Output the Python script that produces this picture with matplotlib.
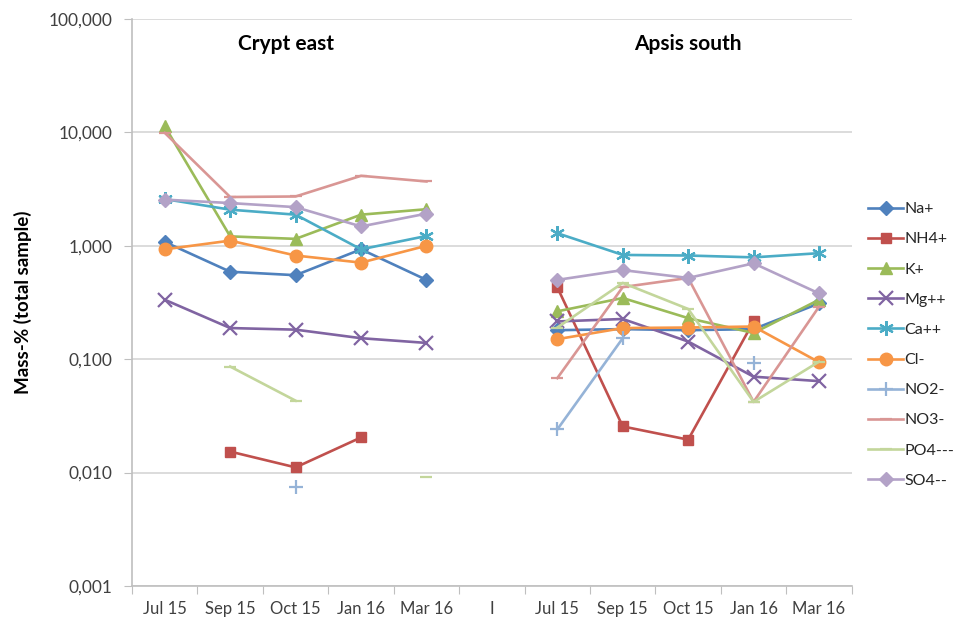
import numpy as np
import matplotlib
matplotlib.use("Agg")
import matplotlib.pyplot as plt
from matplotlib.ticker import FuncFormatter, FixedLocator, NullFormatter

nan = np.nan

# sampling dates, crypt east block | separator | apsis south block
dates = ["Jul 15", "Sep 15", "Oct 15", "Jan 16", "Mar 16", "I",
         "Jul 15", "Sep 15", "Oct 15", "Jan 16", "Mar 16"]

# mass-% of the total sample for each ion
na = [1.08, 0.59, 0.55, 0.93, 0.50, nan, 0.18, 0.184, 0.18, 0.184, 0.31]
nh4 = [nan, 0.0153, 0.0111, 0.0204, nan, nan, 0.43, 0.0255, 0.0195, 0.215, nan]
k = [11.3, 1.21, 1.15, 1.88, 2.10, nan, 0.264, 0.346, 0.23, 0.17, 0.334]
mg = [0.334, 0.188, 0.182, 0.153, 0.139, nan, 0.215, 0.226, 0.143, 0.070, 0.064]
ca = [2.58, 2.08, 1.88, 0.93, 1.22, nan, 1.29, 0.83, 0.82, 0.79, 0.86]
cl = [0.93, 1.11, 0.82, 0.71, 1.00, nan, 0.150, 0.188, 0.19, 0.194, 0.094]
no2 = [nan, nan, 0.0074, nan, nan, nan, 0.024, 0.153, nan, 0.092, nan]
no3 = [9.9, 2.69, 2.72, 4.14, 3.69, nan, 0.068, 0.432, 0.52, 0.042, 0.29]
po4 = [nan, 0.086, 0.043, nan, 0.0091, nan, 0.19, 0.47, 0.277, 0.042, 0.095]
so4 = [2.55, 2.38, 2.19, 1.48, 1.92, nan, 0.50, 0.61, 0.52, 0.70, 0.38]

ions = ["Na+", "NH4+", "K+", "Mg++", "Ca++", "Cl-", "NO2-", "NO3-", "PO4---", "SO4--"]
series = [na, nh4, k, mg, ca, cl, no2, no3, po4, so4]

colors = ["#4F81BD", "#C0504D", "#9BBB59", "#8064A2", "#4BACC6",
          "#F79646", "#95B3D7", "#D99694", "#C3D69B", "#B3A2C7"]
markers = ["D", "s", "^", "x", (6, 2, 0), "o", "+", "_", "_", "D"]
msizes = [7, 7.5, 8.5, 9.5, 10.5, 9, 9.5, 8, 8, 7]

plt.rcParams["font.family"] = ["Lato", "DejaVu Sans"]

fig = plt.figure(figsize=(9.57, 6.22), dpi=100)
ax = fig.add_axes([0.138, 0.058, 0.752, 0.9115])

x = np.arange(len(dates))
for name, vals, c, m, ms in zip(ions, series, colors, markers, msizes):
    mew = 1.6 if m in ("x", "+", "_") or isinstance(m, tuple) else 1.0
    ax.plot(x, vals, color=c, lw=1.9, marker=m, ms=ms, mew=mew,
            mec=c, mfc=c, label=name, zorder=3)

ax.set_yscale("log")
ax.set_ylim(0.001, 100)
ax.set_xlim(-0.5, 10.5)
ax.yaxis.set_major_formatter(FuncFormatter(lambda v, p: f"{v:.3f}".replace(".", ",")))
ax.yaxis.set_minor_formatter(NullFormatter())
ax.tick_params(axis="y", which="minor", length=0)
ax.tick_params(axis="y", which="major", length=6, color="#BFBFBF",
               labelsize=12.5, labelcolor="#404040", pad=8)

# category labels centred, tick marks between categories
ax.xaxis.set_major_locator(FixedLocator(np.arange(-0.5, 11, 1)))
ax.xaxis.set_major_formatter(NullFormatter())
ax.xaxis.set_minor_locator(FixedLocator(x))
ax.set_xticklabels(dates, minor=True)
ax.tick_params(axis="x", which="major", length=6, color="#BFBFBF")
ax.tick_params(axis="x", which="minor", length=0, labelsize=12,
               labelcolor="#404040", pad=11)

ax.grid(axis="y", which="major", color="#D9D9D9", lw=1.3)
ax.set_axisbelow(True)
for s in ["top", "right"]:
    ax.spines[s].set_visible(False)
for s in ["left", "bottom"]:
    ax.spines[s].set_color("#BFBFBF")
    ax.spines[s].set_linewidth(1.2)

ax.set_ylabel("Mass-% (total sample)", fontsize=13.5, fontweight="bold", labelpad=12)

ax.text(1.85, 0.955, "Crypt east", transform=ax.get_xaxis_transform(),
        ha="center", va="center", fontsize=15, fontweight="bold")
ax.text(8.0, 0.955, "Apsis south", transform=ax.get_xaxis_transform(),
        ha="center", va="center", fontsize=15, fontweight="bold")

leg = fig.legend(loc="upper left", bbox_to_anchor=(0.907, 0.675), frameon=False,
                 fontsize=11.5, handlelength=2.2, handletextpad=0.1,
                 labelspacing=1.0, borderaxespad=0, borderpad=0)
for t in leg.get_texts():
    t.set_color("#262626")

fig.savefig("out.png", dpi=100)
